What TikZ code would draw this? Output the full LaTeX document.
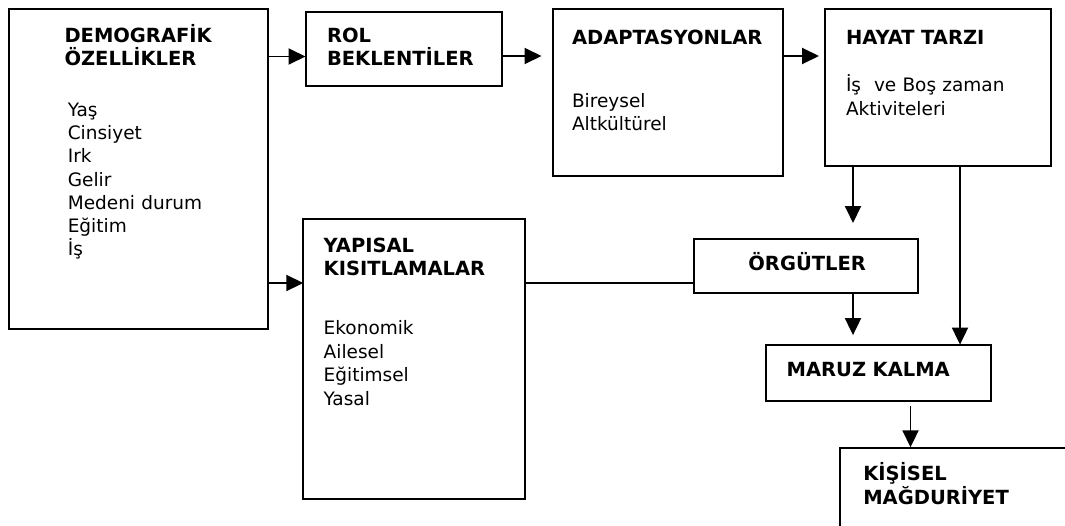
\documentclass[tikz,border=0pt]{standalone}
\usepackage{fontspec}
\setmainfont{DejaVu Sans}
\usetikzlibrary{arrows.meta}
\tikzset{
  box/.style={draw, line width=2pt, inner sep=0pt, outer sep=0pt},
  arr/.style={line width=1.9pt, -{Triangle[length=17pt,width=16pt]}},
  conn/.style={line width=1.9pt},
  txt/.style={anchor=base west, inner sep=0pt, outer sep=0pt, text width=#1, align=left},
  txt/.default=220pt,
  ttl/.style={font=\fontsize{19.5}{23}\selectfont\bfseries},
  itm/.style={font=\fontsize{18.5}{23.2}\selectfont},
}
\begin{document}
\begin{tikzpicture}[x=1pt,y=-1pt]
\useasboundingbox (0,0) rectangle (1065,525);
\clip (0,0) rectangle (1065,525);
% boxes
\node[box, minimum width=259pt, minimum height=319.2pt] (dem) at (138,168.9) {};
\node[box, minimum width=196pt, minimum height=74.3pt] (rol) at (403.5,48.85) {};
\node[box, minimum width=230.2pt, minimum height=166.5pt] (ada) at (667.6,92.55) {};
\node[box, minimum width=225.5pt, minimum height=156.7pt] (hay) at (937.75,87.65) {};
\node[box, minimum width=221.7pt, minimum height=279.7pt] (yap) at (414.15,359.15) {};
\node[box, minimum width=224pt, minimum height=54.3pt] (org) at (806,266.15) {};
\node[box, minimum width=225.9pt, minimum height=56.4pt] (mar) at (878.45,372.8) {};
\node[box, minimum width=260pt, minimum height=111.4pt] (kis) at (970,504) {};
% texts
\node[txt, ttl] (demT) at (64.5,42) {DEMOGRAFİK\\ÖZELLİKLER};
\node[txt, itm] (demI) at (67.8,116.5) {Yaş\\Cinsiyet\\Irk\\Gelir\\Medeni durum\\Eğitim\\İş};
\node[txt, ttl] (rolT) at (327,42.5) {ROL\\BEKLENTİLER};
\node[txt, ttl] (adaT) at (572,44.5) {ADAPTASYONLAR};
\node[txt, itm, font=\fontsize{18.5}{23.5}\selectfont] (adaI) at (572,107) {Bireysel\\Altkültürel};
\node[txt, ttl] (hayT) at (846,44.5) {HAYAT TARZI};
\node[txt, itm, font=\fontsize{18.5}{23.5}\selectfont] (hayI) at (846,91.5) {İş\hspace{0.7em}ve Boş zaman\\Aktiviteleri};
\node[txt, ttl] (yapT) at (323.7,252.5) {YAPISAL\\KISITLAMALAR};
\node[txt, itm, font=\fontsize{18.5}{23.6}\selectfont] (yapI) at (323.7,334.5) {Ekonomik\\Ailesel\\Eğitimsel\\Yasal};
\node[txt, ttl] (orgT) at (748.4,270) {ÖRGÜTLER};
\node[txt, ttl] (marT) at (786.7,376.5) {MARUZ KALMA};
\node[txt=190pt, ttl, font=\fontsize{19.5}{24}\selectfont\bfseries] (kisT) at (863.3,480) {KİŞİSEL\\MAĞDURİYET};
% connectors
\draw[arr] (dem.east |- {(0,56.5)}) -- (rol.west |- {(0,56.5)});
\draw[arr, shorten >=11pt] (rol.east |- {(0,56)}) -- (ada.west |- {(0,56)});
\draw[arr, shorten >=6pt] (ada.east |- {(0,56)}) -- (hay.west |- {(0,56)});
\draw[arr] (dem.east |- {(0,283)}) -- (yap.west |- {(0,283)});
\draw[conn] (yap.east |- {(0,283.3)}) -- (org.west |- {(0,283.3)});
\draw[arr, shorten >=16pt] (hay.south -| {(853,0)}) -- (org.north -| {(853,0)});
\draw[arr] (hay.south -| {(960,0)}) -- (mar.north -| {(960,0)});
\draw[arr, shorten >=9.5pt] (org.south -| {(853,0)}) -- (mar.north -| {(853,0)});
\draw[arr, shorten <=5pt, shorten >=1pt] (mar.south -| {(910.5,0)}) -- (kis.north -| {(910.5,0)});
\end{tikzpicture}
\end{document}
